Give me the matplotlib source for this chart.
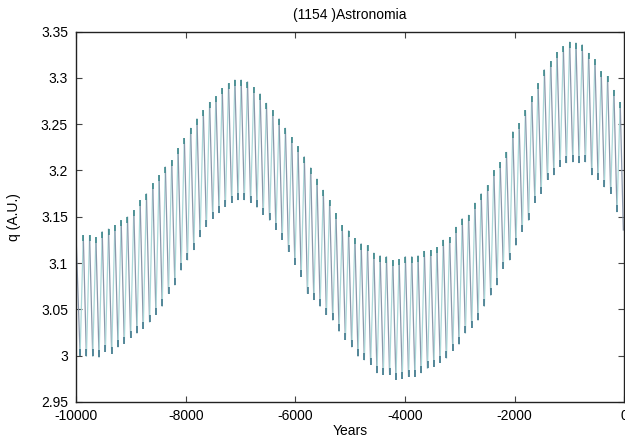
import matplotlib
matplotlib.use('Agg')
import matplotlib.pyplot as plt
from matplotlib.collections import LineCollection
from matplotlib.ticker import FuncFormatter, MultipleLocator
from matplotlib.path import Path
import numpy as np

plt.rcParams['font.family'] = ['Liberation Sans', 'DejaVu Sans']
plt.rcParams['axes.unicode_minus'] = False

title = '(1154 )Astronomia'

# value where the curve starts (year -10000) and where it ends (right edge)
q_start = 3.123
q_end = 3.135

# first and last oscillation maxima (years)
first_peak_year = -9872
last_peak_year = -71

# q at each maximum, left to right
peak_q = [3.130, 3.130, 3.128, 3.134, 3.137, 3.141, 3.146, 3.150, 3.157,
          3.168, 3.175, 3.186, 3.195, 3.204, 3.211, 3.224, 3.235, 3.246, 3.256,
          3.265, 3.274, 3.280, 3.289, 3.294, 3.298, 3.298, 3.296, 3.290, 3.283,
          3.273, 3.265, 3.256, 3.246, 3.236, 3.226, 3.215, 3.203, 3.191,
          3.179, 3.168, 3.154,
          3.141, 3.135, 3.127, 3.121, 3.119, 3.111, 3.108, 3.107, 3.103, 3.104,
          3.107, 3.107, 3.108, 3.113, 3.114, 3.117, 3.125, 3.128, 3.139, 3.148,
          3.152, 3.165,
          3.175, 3.184, 3.200, 3.209, 3.220, 3.242, 3.251, 3.265, 3.280, 3.294,
          3.309, 3.318, 3.328, 3.334, 3.339, 3.338, 3.336, 3.327, 3.320, 3.307,
          3.302, 3.287, 3.274]

# q at each minimum (the one before each maximum)
trough_q = [3.000, 2.999, 2.999, 2.998, 3.004, 3.002, 3.009, 3.013, 3.019, 3.024,
            3.029, 3.036, 3.044, 3.053, 3.067, 3.076, 3.092, 3.103, 3.114, 3.128,
            3.139, 3.148, 3.154, 3.161, 3.165, 3.168, 3.168, 3.165, 3.160, 3.152,
            3.146, 3.136, 3.125, 3.112, 3.098, 3.085, 3.067, 3.060, 3.053, 3.044,
            3.038, 3.026, 3.017, 3.009, 2.999, 2.995, 2.990, 2.981, 2.979, 2.979,
            2.974, 2.975, 2.977, 2.977, 2.981, 2.986, 2.988, 2.992, 2.997, 3.005,
            3.012, 3.024, 3.030, 3.038, 3.053, 3.065, 3.076, 3.094, 3.103, 3.119,
            3.134, 3.146, 3.165, 3.175, 3.190, 3.195, 3.204, 3.208, 3.209, 3.208,
            3.209, 3.195, 3.190, 3.182, 3.175, 3.155]

xticks = [-10000, -8000, -6000, -4000, -2000, 0]

# build the zig-zag series
peak_years = np.linspace(first_peak_year, last_peak_year, len(peak_q))
step = peak_years[1] - peak_years[0]
trough_years = peak_years - step / 2

years = [-10000]
q = [q_start]
for ty, tq, py, pq in zip(trough_years, trough_q, peak_years, peak_q):
    years += [ty, py]
    q += [tq, pq]
years.append(last_peak_year + step / 2)
q.append(q_end)

fig = plt.figure(figsize=(6.25, 4.43), dpi=100)
ax = fig.add_axes([0.122, 0.093, 0.8765, 0.8355])

pts = np.column_stack([years, q])
segs = np.stack([pts[:-1], pts[1:]], axis=1)
rising = pts[1:, 1] > pts[:-1, 1]
seg_colors = np.where(rising, '#a9d8d8', '#8a97ab')
lc = LineCollection(segs, colors=seg_colors, linewidths=0.9)
ax.add_collection(lc)

# darker tips at the extremes
down = Path([(0, 0), (0, -1)])
up = Path([(0, 0), (0, 1)])
ax.plot(peak_years, peak_q, linestyle='none', marker=down, markersize=9,
        markeredgewidth=1.1, markeredgecolor='#3a8a8c')
ax.plot(trough_years, trough_q, linestyle='none', marker=up, markersize=10,
        markeredgewidth=1.1, markeredgecolor='#3a7388')

ax.set_xlim(-10000, 0)
ax.set_ylim(2.95, 3.35)
ax.set_xticks(xticks)
ax.yaxis.set_major_locator(MultipleLocator(0.05))
ax.yaxis.set_major_formatter(FuncFormatter(lambda v, p: '%g' % round(v, 3)))
ax.tick_params(direction='in', top=True, right=True, length=4, width=0.8,
               labelsize=10, color='#444444')
ax.tick_params(axis='y', pad=6)
ax.tick_params(axis='x', pad=5)
for s in ax.spines.values():
    s.set_linewidth(1.0)
    s.set_color('#222222')

ax.set_title(title, fontsize=10, pad=9)
ax.set_xlabel('Years', fontsize=10, labelpad=1)
ax.set_ylabel('q (A.U.)', fontsize=10, labelpad=14)

fig.savefig('out.png', dpi=100)
